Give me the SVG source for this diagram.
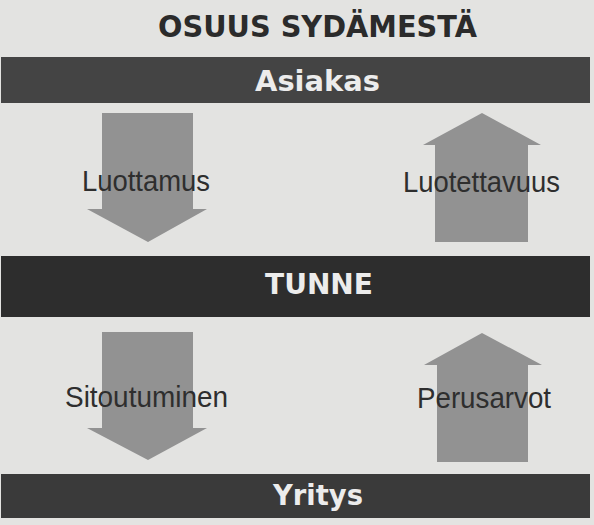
<svg xmlns="http://www.w3.org/2000/svg" width="594" height="525" viewBox="0 0 594 525">
  <style>
    .bg { fill: #e3e3e1; }
    .bar { fill: #353535; }
    .bartxt { font-family: "DejaVu Sans", "Liberation Sans", sans-serif; font-weight: bold; font-size: 29px; fill: #ececec; }
    .title { font-family: "DejaVu Sans", "Liberation Sans", sans-serif; font-weight: bold; font-size: 30px; fill: #2b2b2b; }
    .arrow { fill: #929292; }
    .lbl { font-family: "Liberation Sans", Arial, sans-serif; font-size: 30px; fill: #2e2e2e; }
  </style>
  <rect class="bg" x="0" y="0" width="594" height="525"/>
  <g id="title">
    <text class="title" x="158" y="37" textLength="319" lengthAdjust="spacingAndGlyphs">OSUUS SYDÄMESTÄ</text>
  </g>
  <g id="connectors">
    <g id="arrow-luottamus">
      <polygon class="arrow" points="102,113 193,113 193,209 207,209 148,242 87,209 102,209"/>
      <text class="lbl" x="82" y="191" textLength="128" lengthAdjust="spacingAndGlyphs">Luottamus</text>
    </g>
    <g id="arrow-luotettavuus">
      <polygon class="arrow" points="482,113 541,145 528,145 528,242 435,242 435,145 423,145"/>
      <text class="lbl" x="403" y="192" textLength="157" lengthAdjust="spacingAndGlyphs">Luotettavuus</text>
    </g>
    <g id="arrow-sitoutuminen">
      <polygon class="arrow" points="102,332 193,332 193,428 207,428 148,460 87,428 102,428"/>
      <text class="lbl" x="65" y="407" textLength="163" lengthAdjust="spacingAndGlyphs">Sitoutuminen</text>
    </g>
    <g id="arrow-perusarvot">
      <polygon class="arrow" points="482,333 542,365 528,365 528,462 437,462 437,365 424,365"/>
      <text class="lbl" x="417" y="408" textLength="134" lengthAdjust="spacingAndGlyphs">Perusarvot</text>
    </g>
  </g>
  <g id="node-asiakas">
    <rect class="bar" x="1" y="57" width="589" height="46" style="fill:#444444"/>
    <text class="bartxt" x="255" y="91" textLength="125" lengthAdjust="spacingAndGlyphs">Asiakas</text>
  </g>
  <g id="node-tunne">
    <rect class="bar" x="1" y="256" width="589" height="61" style="fill:#2d2d2d"/>
    <text class="bartxt" x="265" y="294" textLength="108" lengthAdjust="spacingAndGlyphs">TUNNE</text>
  </g>
  <g id="node-yritys">
    <rect class="bar" x="1" y="474" width="589" height="44" style="fill:#3a3a3a"/>
    <text class="bartxt" x="273" y="505" textLength="90" lengthAdjust="spacingAndGlyphs">Yritys</text>
  </g>
</svg>
